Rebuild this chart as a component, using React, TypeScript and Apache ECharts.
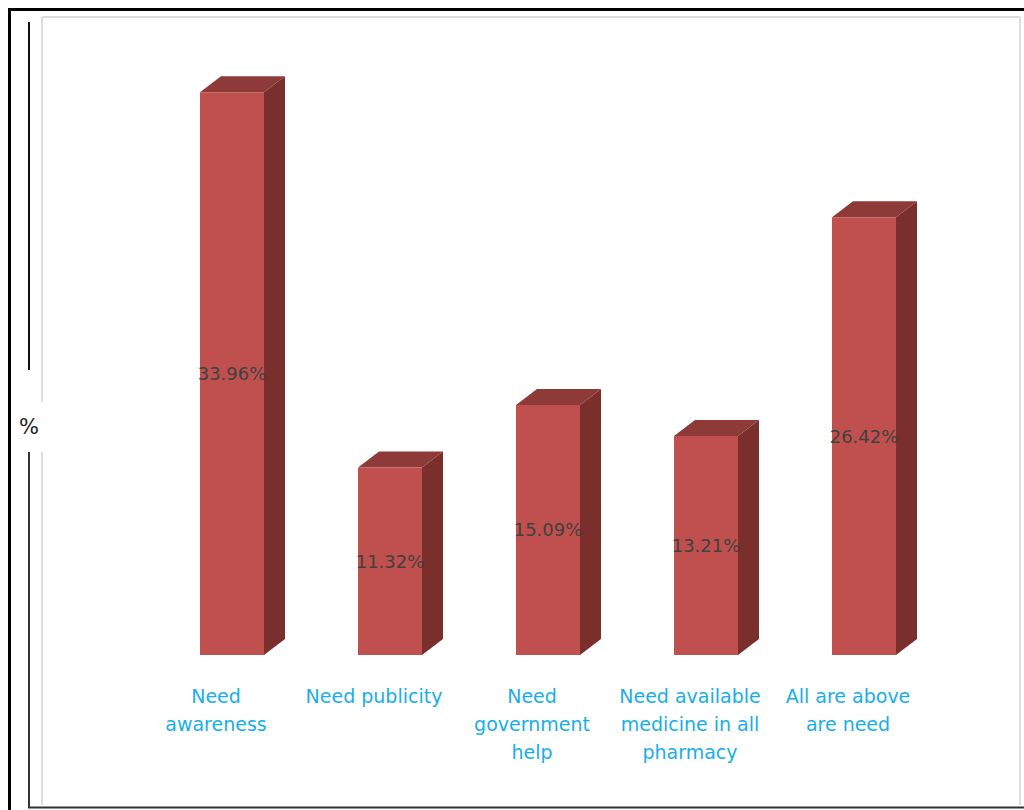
import React, { useEffect, useRef } from "react";
import * as echarts from "echarts";

const categories = [
  "Need\nawareness",
  "Need publicity",
  "Need\ngovernment\nhelp",
  "Need available\nmedicine in all\npharmacy",
  "All are above\nare need",
];
const percentages = [33.96, 11.32, 15.09, 13.21, 26.42];
const axisName = "%";

const FRONT = "#C0504D";
const TOP = "#8D3A38";
const SIDE = "#7A2F2D";
const BAR_W = 64;
const BAR_SHIFT = 16;
const DEPTH_X = 21;
const DEPTH_Y = 16;

export default function App() {
  const ref = useRef<HTMLDivElement>(null);
  useEffect(() => {
    if (!ref.current) return;
    const chart = echarts.init(ref.current, null, { renderer: "svg" });
    const option: any = {
      animation: false,
      backgroundColor: "#ffffff",
      grid: { left: 137, right: 97, top: 75, bottom: 155 },
      xAxis: {
        type: "category",
        data: categories,
        axisLine: { show: false },
        axisTick: { show: false },
        axisLabel: {
          color: "#17AEEA",
          fontFamily: "DejaVu Sans",
          fontSize: 19,
          lineHeight: 28,
          margin: 27,
          interval: 0,
          align: "center",
        },
      },
      yAxis: {
        type: "value",
        min: 0,
        max: 35,
        show: false,
        splitLine: { show: false },
      },
      graphic: [
        { type: "line", shape: { x1: 9.5, y1: 8, x2: 9.5, y2: 810 }, style: { stroke: "#000", lineWidth: 3 } },
        { type: "line", shape: { x1: 8, y1: 9.5, x2: 1024, y2: 9.5 }, style: { stroke: "#000", lineWidth: 3 } },
        { type: "line", shape: { x1: 42, y1: 17, x2: 1020, y2: 17 }, style: { stroke: "#DDDDDD", lineWidth: 2 } },
        { type: "line", shape: { x1: 1020, y1: 17, x2: 1020, y2: 805 }, style: { stroke: "#DDDDDD", lineWidth: 2 } },
        { type: "line", shape: { x1: 42, y1: 17, x2: 42, y2: 402 }, style: { stroke: "#DDDDDD", lineWidth: 2 } },
        { type: "line", shape: { x1: 42, y1: 452, x2: 42, y2: 805 }, style: { stroke: "#DDDDDD", lineWidth: 2 } },
        { type: "line", shape: { x1: 29, y1: 22, x2: 29, y2: 370 }, style: { stroke: "#111", lineWidth: 2 } },
        { type: "line", shape: { x1: 29, y1: 452, x2: 29, y2: 808 }, style: { stroke: "#333", lineWidth: 2 } },
        { type: "line", shape: { x1: 28, y1: 807.5, x2: 1024, y2: 807.5 }, style: { stroke: "#333", lineWidth: 2 } },
        {
          type: "text",
          x: 29,
          y: 427,
          style: {
            text: axisName,
            fill: "#222",
            font: '21px "DejaVu Sans"',
            textAlign: "center",
            textVerticalAlign: "middle",
          },
        },
      ],
      series: [
        {
          type: "custom",
          data: percentages.map((v, i) => [i, v]),
          encode: { x: 0, y: 1 },
          renderItem: (params: any, api: any) => {
            const i = api.value(0);
            const v = api.value(1);
            const base = api.coord([i, 0]);
            const top = api.coord([i, v]);
            const x0 = base[0] - BAR_SHIFT;
            const ty = top[1];
            const by = base[1];
            return {
              type: "group",
              children: [
                {
                  type: "polygon",
                  shape: {
                    points: [
                      [x0 + BAR_W, ty],
                      [x0 + BAR_W + DEPTH_X, ty - DEPTH_Y],
                      [x0 + BAR_W + DEPTH_X, by - DEPTH_Y],
                      [x0 + BAR_W, by],
                    ],
                  },
                  style: { fill: SIDE },
                },
                {
                  type: "polygon",
                  shape: {
                    points: [
                      [x0, ty],
                      [x0 + DEPTH_X, ty - DEPTH_Y],
                      [x0 + BAR_W + DEPTH_X, ty - DEPTH_Y],
                      [x0 + BAR_W, ty],
                    ],
                  },
                  style: { fill: TOP },
                },
                {
                  type: "rect",
                  shape: { x: x0, y: ty, width: BAR_W, height: by - ty },
                  style: { fill: FRONT },
                },
                {
                  type: "text",
                  x: x0 + BAR_W / 2,
                  y: (ty + by) / 2,
                  style: {
                    text: v.toFixed(2) + "%",
                    fill: "#404040",
                    font: '18px "DejaVu Sans"',
                    textAlign: "center",
                    textVerticalAlign: "middle",
                  },
                },
              ],
            };
          },
        },
      ],
    };
    chart.setOption(option);
    return () => chart.dispose();
  }, []);
  return (
    <div
      ref={ref}
      style={{ position: "fixed", left: 0, top: 0, width: 1024, height: 810 }}
    />
  );
}
